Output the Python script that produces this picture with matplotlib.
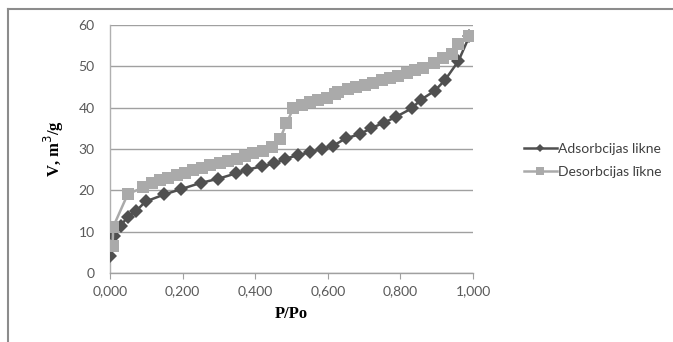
import matplotlib
matplotlib.use("Agg")
import matplotlib.pyplot as plt
from matplotlib.lines import Line2D

# Adsorption isotherm (diamonds)
ads_x = [0.000, 0.012, 0.029, 0.049, 0.073, 0.098, 0.150, 0.196, 0.250, 0.298,
         0.347, 0.378, 0.418, 0.453, 0.482, 0.517, 0.551, 0.583, 0.615, 0.650,
         0.689, 0.718, 0.756, 0.788, 0.831, 0.856, 0.895, 0.923, 0.960, 0.990]
ads_v = [4.1, 9.0, 11.4, 13.6, 15.1, 17.3, 19.0, 20.3, 21.8, 22.8,
         24.1, 25.0, 25.8, 26.5, 27.6, 28.5, 29.2, 30.0, 30.8, 32.6,
         33.6, 35.0, 36.4, 37.8, 39.8, 41.9, 44.1, 46.7, 51.3, 57.3]

# Desorption isotherm (squares)
des_x = [0.990, 0.960, 0.941, 0.918, 0.893, 0.863, 0.840, 0.817, 0.794, 0.771,
         0.749, 0.725, 0.702, 0.679, 0.656, 0.628, 0.620, 0.597, 0.574, 0.551,
         0.528, 0.505, 0.486, 0.468, 0.445, 0.421, 0.395, 0.372, 0.349, 0.326,
         0.303, 0.275, 0.253, 0.229, 0.207, 0.184, 0.161, 0.138, 0.115, 0.092,
         0.049, 0.009, 0.007]
des_v = [57.3, 55.4, 53.0, 51.9, 50.7, 49.5, 49.0, 48.3, 47.7, 47.1,
         46.7, 46.0, 45.5, 44.9, 44.4, 43.7, 43.3, 42.4, 41.9, 41.3,
         40.6, 39.8, 36.2, 32.4, 30.6, 29.6, 29.0, 28.3, 27.7, 27.2,
         26.7, 26.1, 25.5, 24.9, 24.3, 23.7, 23.1, 22.5, 21.7, 20.7,
         19.1, 11.2, 6.6]

x_ticks = [0.0, 0.2, 0.4, 0.6, 0.8, 1.0]
x_ticklabels = ["0,000", "0,200", "0,400", "0,600", "0,800", "1,000"]
y_ticks = [0, 10, 20, 30, 40, 50, 60]
series_names = ["Adsorbcijas likne", "Desorbcijas līkne"]

dark = "#505050"
light = "#aaaaaa"
tick_col = "#595959"

fig = plt.figure(figsize=(6.73, 3.42), dpi=100)
# outer chart-area border (only top and left visible)
fig.add_artist(Line2D([8/673, 8/673], [0, 1 - 9/342], transform=fig.transFigure,
                      color="#8c8c8c", lw=1.5))
fig.add_artist(Line2D([8/673, 1], [1 - 9/342, 1 - 9/342], transform=fig.transFigure,
                      color="#8c8c8c", lw=1.5))

ax = fig.add_axes([110/673, 1 - 273/342, 363/673, 248/342])
ax.plot(ads_x, ads_v, color=dark, lw=1.8, marker="D", markersize=7.5,
        markeredgewidth=0, label=series_names[0], zorder=3)
ax.plot(des_x, des_v, color=light, lw=1.8, marker="s", markersize=8.5,
        markeredgewidth=0, label=series_names[1], zorder=4)

ax.set_xlim(0, 1.0)
ax.set_ylim(0, 60)
ax.set_xticks(x_ticks)
ax.set_xticklabels(x_ticklabels)
ax.set_yticks(y_ticks)
ax.yaxis.grid(True, color="#a0a0a0", lw=1)
ax.set_axisbelow(True)
for s in ["top", "right"]:
    ax.spines[s].set_visible(False)
ax.spines["left"].set_color("#b0b0b0")
ax.spines["bottom"].set_color("#a0a0a0")
ax.spines["left"].set_linewidth(1)
ax.spines["bottom"].set_linewidth(1)
ax.tick_params(axis="y", length=0, pad=11, labelsize=10, labelcolor=tick_col)
ax.tick_params(axis="x", length=4, direction="out", color="#a0a0a0", pad=5,
               labelsize=10, labelcolor=tick_col)
for lab in ax.get_xticklabels() + ax.get_yticklabels():
    lab.set_family("Lato")

ax.set_xlabel("P/Po", family="Liberation Serif", fontweight="bold", fontsize=12,
              labelpad=6)
ax.set_ylabel("V, m$^3$/g", family="Liberation Serif", fontweight="bold",
              fontsize=12, labelpad=9)

leg = ax.legend(loc="center left", bbox_to_anchor=(1.105, 0.455), frameon=False,
                handlelength=2.4, handletextpad=0.1,
                labelspacing=0.8, markerscale=0.6,
                prop={"family": "Lato", "size": 10})
for t in leg.get_texts():
    t.set_color("#404040")

fig.savefig("out.png", dpi=100)
